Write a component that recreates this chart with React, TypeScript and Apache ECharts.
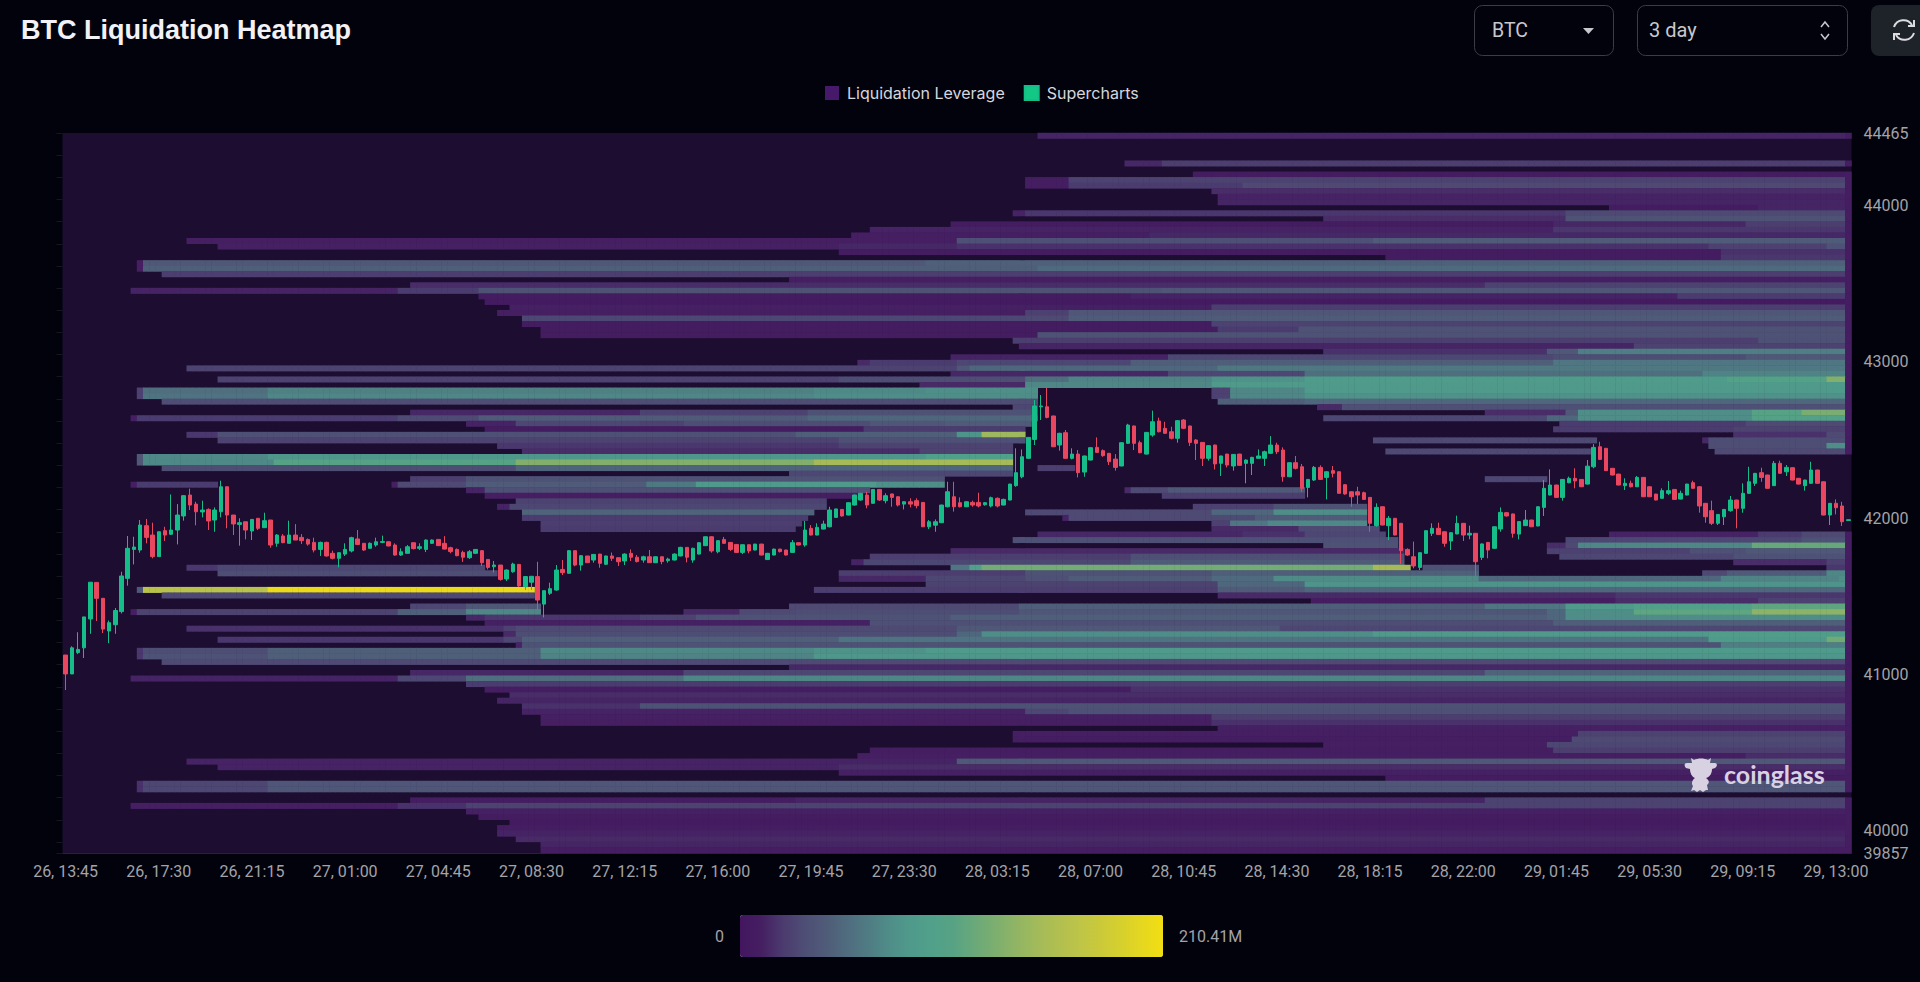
import React, { useEffect, useRef } from "react";
import * as echarts from "echarts";

const TITLE = "BTC Liquidation Heatmap";
const PRICE_MIN = 39857;
const PRICE_MAX = 44465;
const MAX_LIQ = 210.41;
const priceTicks = [39857, 40000, 41000, 42000, 43000, 44000, 44465];
const ROW_COUNT = 130;
const COL_COUNT = 288;
const LAST_COLUMN_VALUE = 9;

// [row from the top, [firstColumn, endColumn, value in millions], ...]
type Band = [number, ...[number, number, number][]];
const upperBands: Band[] = [
  [0, [157, 288, 13]],
  [5, [171, 177, 14], [177, 288, 24]],
  [7, [182, 288, 8]],
  [8, [155, 162, 9], [162, 288, 26]],
  [9, [155, 162, 9], [162, 190, 22], [190, 288, 30]],
  [10, [185, 288, 16]],
  [11, [186, 288, 12]],
  [12, [186, 288, 13]],
  [13, [249, 273, 8], [273, 288, 13]],
  [14, [153, 155, 12], [155, 242, 20], [242, 288, 30]],
  [15, [203, 242, 16], [242, 288, 36]],
  [16, [143, 240, 8], [240, 271, 14], [271, 288, 24]],
  [17, [130, 240, 12], [240, 288, 20]],
  [18, [127, 175, 10], [175, 288, 14]],
  [19, [20, 144, 10], [144, 211, 34], [211, 288, 42]],
  [20, [25, 125, 11], [125, 144, 14], [144, 265, 18], [265, 284, 25], [284, 288, 35]],
  [21, [125, 267, 8], [267, 288, 18]],
  [22, [213, 267, 8], [267, 288, 20]],
  [23, [12, 13, 10], [13, 139, 40], [139, 288, 46]],
  [24, [12, 13, 10], [13, 157, 44], [157, 288, 52]],
  [25, [16, 288, 24]],
  [26, [117, 288, 10]],
  [27, [56, 229, 16], [229, 288, 26]],
  [28, [11, 54, 12], [54, 67, 22], [67, 177, 36], [177, 288, 38]],
  [29, [67, 172, 8], [172, 260, 12], [260, 288, 22]],
  [30, [68, 288, 6]],
  [31, [72, 185, 11], [185, 288, 24]],
  [32, [70, 155, 10], [155, 162, 25], [162, 288, 38]],
  [33, [74, 155, 28], [155, 162, 30], [162, 288, 42]],
  [34, [74, 185, 8], [185, 288, 26]],
  [35, [77, 186, 8], [186, 199, 22], [199, 288, 36]],
  [36, [77, 157, 8], [157, 288, 36]],
  [37, [153, 273, 24], [273, 288, 34]],
  [38, [154, 253, 13], [253, 288, 26]],
  [39, [203, 239, 18], [239, 244, 40], [244, 288, 65]],
  [40, [143, 178, 12], [178, 240, 28], [240, 271, 32], [271, 288, 40]],
  [41, [128, 130, 15], [130, 144, 22], [144, 172, 28], [172, 240, 44], [240, 288, 60]],
  [42, [20, 144, 26], [144, 146, 38], [146, 186, 50], [186, 288, 62]],
  [43, [143, 178, 14], [178, 200, 28], [200, 264, 55], [264, 288, 68]],
];
const middleBands: Band[] = [
  [44, [25, 125, 26], [125, 155, 32], [155, 162, 55], [162, 185, 68], [185, 200, 78], [200, 268, 88], [268, 284, 100], [284, 288, 130]],
  [45, [138, 155, 15], [155, 185, 70], [185, 288, 85]],
  [46, [12, 13, 25], [13, 33, 55], [33, 121, 66], [121, 139, 72], [139, 157, 76], [185, 188, 25], [188, 200, 70], [200, 288, 85]],
  [47, [12, 13, 25], [13, 33, 58], [33, 121, 70], [121, 157, 75], [185, 188, 25], [188, 200, 70], [200, 288, 78]],
  [48, [16, 157, 32], [186, 200, 45], [200, 288, 50]],
  [49, [153, 157, 28], [202, 206, 15], [206, 288, 34]],
  [50, [56, 93, 14], [93, 120, 26], [120, 157, 36], [229, 242, 16], [242, 244, 40], [244, 272, 75], [272, 280, 105], [280, 288, 125]],
  [51, [11, 12, 10], [12, 54, 22], [54, 67, 30], [67, 120, 42], [120, 157, 50], [203, 239, 28], [239, 244, 50], [244, 272, 75], [272, 288, 100]],
  [52, [65, 73, 12], [73, 93, 28], [93, 100, 26], [100, 130, 32], [130, 142, 38], [142, 156, 42], [241, 271, 22], [271, 288, 30]],
  [53, [68, 129, 8], [129, 155, 22], [240, 269, 22], [269, 288, 26]],
  [54, [20, 25, 20], [25, 118, 34], [118, 144, 44], [144, 148, 80], [148, 155, 145], [269, 284, 18], [284, 288, 30]],
  [55, [25, 125, 26], [125, 155, 34], [211, 247, 30], [264, 265, 14], [265, 288, 32]],
  [56, [70, 125, 20], [125, 153, 26], [265, 284, 32], [284, 288, 75]],
  [57, [74, 138, 16], [138, 153, 26], [213, 246, 30], [266, 288, 30]],
  [58, [12, 13, 40], [13, 33, 72], [33, 139, 82], [139, 153, 95]],
  [59, [12, 13, 40], [13, 34, 72], [34, 73, 105], [73, 121, 130], [121, 153, 150]],
  [60, [16, 73, 32], [73, 121, 48], [121, 153, 50], [157, 163, 24]],
  [61, [117, 153, 28]],
  [62, [56, 65, 24], [65, 142, 36], [229, 239, 28]],
  [63, [11, 12, 10], [12, 25, 22], [53, 54, 10], [54, 65, 30], [65, 94, 42], [94, 102, 62], [102, 131, 85], [131, 142, 76]],
  [64, [65, 68, 12], [68, 130, 34], [171, 172, 15], [172, 178, 30], [178, 200, 40]],
  [65, [68, 128, 10], [177, 200, 24]],
  [66, [73, 123, 26]],
  [67, [70, 72, 12], [72, 123, 28], [182, 195, 25], [195, 210, 36]],
  [68, [74, 121, 48], [155, 185, 30], [185, 195, 50], [195, 210, 75]],
  [69, [74, 120, 22], [161, 162, 12], [162, 192, 30], [192, 210, 42]],
  [70, [77, 119, 24], [185, 188, 25], [188, 194, 60], [194, 210, 72]],
  [71, [77, 118, 22], [185, 199, 15], [199, 212, 30]],
  [72, [157, 190, 14], [190, 200, 18], [200, 213, 28], [249, 273, 12], [273, 280, 22], [280, 288, 30]],
  [73, [153, 215, 34], [242, 280, 28], [280, 288, 35]],
  [74, [203, 215, 36], [239, 242, 16], [242, 244, 30], [244, 272, 70], [272, 288, 115]],
  [75, [143, 216, 15], [239, 262, 25], [262, 271, 34], [271, 288, 40]],
  [76, [130, 172, 24], [172, 216, 34], [241, 269, 28], [269, 288, 35]],
  [77, [127, 129, 12], [129, 172, 28], [172, 216, 42], [269, 284, 16], [284, 288, 25]],
  [78, [20, 25, 20], [25, 68, 28], [143, 146, 60], [146, 148, 95], [148, 211, 122], [211, 217, 150], [219, 228, 36], [284, 288, 20]],
  [79, [25, 70, 32], [125, 155, 24], [155, 185, 36], [185, 217, 44], [217, 228, 46], [264, 268, 30], [268, 284, 42], [284, 288, 70]],
  [80, [125, 139, 14], [139, 155, 28], [155, 162, 34], [162, 185, 42], [185, 195, 52], [195, 228, 74], [228, 267, 50], [267, 286, 68], [286, 288, 75]],
  [81, [139, 186, 26], [186, 200, 50], [200, 288, 80]],
  [82, [12, 13, 40], [13, 33, 165], [33, 76, 205], [121, 186, 24], [186, 200, 42], [200, 288, 50]],
  [83, [16, 76, 28], [186, 250, 15], [250, 288, 20]],
  [84, [201, 250, 9], [250, 273, 16], [273, 288, 25]],
];
const lowerBands: Band[] = [
  [85, [56, 65, 28], [65, 77, 40], [117, 154, 30], [154, 229, 44], [229, 242, 60], [242, 253, 85], [253, 272, 95], [272, 288, 110]],
  [86, [11, 12, 10], [12, 54, 26], [54, 65, 45], [65, 77, 70], [100, 109, 15], [109, 118, 30], [118, 154, 32], [154, 239, 38], [239, 242, 50], [242, 253, 75], [253, 272, 110], [272, 288, 135]],
  [87, [65, 68, 14], [68, 93, 20], [93, 102, 26], [102, 143, 36], [143, 239, 44], [239, 242, 50], [242, 288, 75]],
  [88, [68, 130, 11], [130, 196, 34], [196, 240, 32], [240, 288, 45]],
  [89, [20, 71, 18], [71, 73, 25], [73, 144, 30], [144, 196, 40], [196, 288, 28]],
  [90, [71, 73, 15], [73, 144, 32], [144, 148, 50], [148, 211, 75], [211, 265, 85], [265, 288, 92]],
  [91, [25, 71, 20], [71, 74, 28], [74, 125, 45], [125, 265, 58], [265, 284, 85], [284, 288, 120]],
  [92, [73, 74, 12], [74, 267, 36], [267, 288, 65]],
  [93, [12, 13, 20], [13, 33, 32], [33, 77, 45], [77, 121, 72], [121, 139, 78], [139, 288, 86]],
  [94, [12, 13, 20], [13, 33, 35], [33, 77, 45], [77, 121, 68], [121, 288, 82]],
  [95, [16, 288, 30]],
  [96, [117, 288, 14]],
  [97, [56, 100, 14], [100, 229, 28], [229, 288, 48]],
  [98, [11, 54, 12], [54, 65, 28], [65, 100, 55], [100, 288, 70]],
  [99, [65, 172, 22], [172, 288, 24]],
  [100, [68, 172, 9], [172, 288, 18]],
  [101, [72, 288, 16]],
  [102, [70, 288, 13]],
  [103, [74, 93, 18], [93, 288, 36]],
  [104, [74, 155, 12], [155, 162, 28], [162, 288, 34]],
  [105, [77, 185, 11], [185, 288, 24]],
  [106, [77, 185, 10], [185, 288, 18]],
  [107, [186, 288, 11]],
  [108, [153, 244, 10], [244, 288, 26]],
  [109, [153, 243, 9], [243, 288, 30]],
  [110, [203, 239, 10], [239, 288, 28]],
  [111, [130, 240, 9], [240, 288, 24]],
  [112, [128, 271, 10], [271, 288, 16]],
  [113, [20, 144, 12], [144, 288, 40]],
  [114, [25, 125, 12], [125, 288, 16]],
  [115, [125, 288, 11]],
  [116, [213, 288, 8]],
  [117, [12, 13, 18], [13, 33, 28], [33, 288, 38]],
  [118, [12, 13, 18], [13, 33, 28], [33, 288, 38]],
  [120, [56, 118, 9], [118, 229, 13], [229, 288, 26]],
  [121, [11, 54, 10], [54, 65, 18], [65, 288, 26]],
  [122, [65, 288, 11]],
  [123, [67, 288, 8]],
  [124, [72, 288, 6]],
  [125, [70, 288, 9]],
  [126, [70, 288, 12]],
  [127, [73, 288, 15]],
  [128, [77, 288, 13]],
  [129, [77, 288, 9]],
];

// open, close, low, high
const candlesDay26: number[][] = [
  [41124,41003,40900,41124],[41003,41170,41003,41180],[41140,41160,41130,41270],[41170,41368,41105,41368],
  [41355,41590,41260,41590],[41589,41487,41342,41589],[41487,41290,41265,41487],[41278,41331,41200,41345],
  [41318,41409,41260,41425],[41402,41630,41390,41657],[41615,41807,41568,41886],[41800,41815,41704,41881],
  [41796,41956,41779,41988],[41952,41877,41839,41995],[41892,41754,41743,41971],[41754,41913,41754,41913],
  [41920,41892,41854,41945],[41897,41924,41892,42152],[41924,42020,41832,42090],[42014,42144,41984,42148],
  [42148,42084,42052,42189],[42090,42041,41954,42105],[42040,42052,42005,42112],[42056,41982,41924,42063],
  [41988,42052,41913,42069],[42041,42201,42005,42240],[42201,42020,41935,42201],[42020,41963,41892,42020],
  [41960,41971,41824,41999],[41977,41924,41864,41977],[41918,41992,41860,41992],[41999,41935,41924,41999],
  [41939,41984,41939,42035],[41988,41828,41811,41988],[41839,41892,41817,41898],[41886,41843,41840,41898],
  [41839,41892,41839,41984],[41892,41860,41860,41962],[41877,41856,41835,41898],[41864,41834,41824,41870],
  [41845,41796,41781,41875],[41800,41845,41758,41850],[41845,41758,41754,41850],[41775,41743,41736,41792],
  [41743,41779,41685,41781],[41770,41800,41758,41839],[41790,41875,41781,41881],[41867,41832,41828,41924],
  [41839,41796,41790,41839],[41807,41839,41805,41845],[41828,41849,41817,41875],[41845,41850,41840,41888],
  [41849,41822,41820,41854],[41828,41764,41760,41839],[41764,41785,41758,41807],[41775,41817,41773,41828],
  [41843,41805,41800,41843],[41807,41817,41796,41839],[41800,41860,41783,41864],[41839,41860,41835,41864],
  [41864,41824,41822,41867],[41839,41802,41800,41885],[41811,41786,41775,41817],[41800,41760,41756,41806],
  [41781,41750,41720,41792],[41747,41785,41739,41796],[41775,41800,41770,41802],[41792,41715,41694,41796],
  [41736,41685,41672,41736],[41690,41700,41653,41726],[41700,41608,41600,41700],[41611,41668,41598,41672],
  [41657,41706,41651,41715],[41704,41566,41560,41707],[41562,41626,41540,41630],[41590,41628,41540,41628],
  [41626,41476,41412,41721],[41450,41536,41365,41536],[41519,41549,41508,41587],[41540,41668,41536,41700],
  [41672,41651,41636,41732],[41647,41792,41645,41796],[41792,41700,41692,41792],[41700,41760,41664,41764],
  [41758,41715,41713,41758],[41732,41768,41715,41770],[41770,41711,41683,41772],[41705,41758,41700,41760],
  [41758,41743,41726,41780],[41747,41721,41694,41747],[41726,41770,41700,41775],[41775,41750,41726,41800],
  [41750,41722,41717,41764],[41732,41753,41715,41760],[41753,41715,41715,41796],[41715,41753,41713,41756],
];
const candlesDay27: number[][] = [
  [41753,41722,41705,41756],[41728,41738,41715,41747],[41732,41770,41730,41775],[41758,41813,41756,41817],
  [41813,41750,41717,41815],[41732,41807,41715,41811],[41770,41843,41768,41845],[41824,41881,41822,41883],
  [41881,41790,41779,41885],[41785,41856,41775,41858],[41864,41839,41836,41880],[41845,41800,41790,41846],
  [41832,41781,41778,41834],[41781,41830,41770,41832],[41830,41790,41775,41832],[41796,41834,41794,41836],
  [41834,41764,41762,41836],[41735,41775,41732,41778],[41764,41802,41762,41805],[41802,41786,41780,41804],
  [41796,41764,41762,41798],[41781,41843,41779,41860],[41843,41828,41826,41845],[41828,41924,41817,41982],
  [41935,41892,41890,41956],[41892,41941,41890,41967],[41930,41962,41928,41984],[41945,42052,41941,42073],
  [42005,42059,42003,42060],[42056,42014,42010,42058],[42020,42099,42018,42101],[42084,42148,42080,42150],
  [42116,42159,42112,42161],[42148,42084,42063,42169],[42095,42184,42093,42186],[42184,42116,42110,42186],
  [42112,42144,42095,42159],[42155,42133,42073,42157],[42137,42084,42075,42140],[42090,42105,42056,42108],
  [42105,42090,42069,42127],[42112,42080,42063,42127],[42101,41945,41943,42103],[41945,41977,41930,41988],
  [41955,41977,41913,41992],[41971,42084,41969,42086],[42073,42169,42069,42233],[42137,42073,42042,42233],
  [42099,42073,42069,42133],[42073,42105,42071,42108],[42101,42084,42073,42112],[42101,42078,42069,42163],
  [42086,42099,42080,42103],[42078,42131,42069,42138],[42127,42078,42069,42133],[42084,42120,42082,42125],
  [42116,42218,42114,42220],[42208,42291,42201,42447],[42265,42393,42255,42440],[42383,42517,42381,42519],
  [42504,42718,42468,42756],[42713,42718,42628,42788],[42713,42645,42639,42837],[42654,42457,42455,42656],
  [42468,42543,42432,42547],[42547,42383,42381,42564],[42383,42410,42376,42447],[42410,42291,42261,42436],
  [42295,42398,42265,42400],[42372,42451,42370,42453],[42453,42421,42419,42517],[42432,42400,42393,42440],
  [42415,42361,42340,42417],[42378,42325,42304,42410],[42334,42483,42332,42485],[42479,42596,42475,42604],
  [42590,42479,42436,42592],[42483,42419,42415,42496],[42410,42549,42408,42551],[42532,42617,42521,42688],
  [42622,42553,42549,42643],[42575,42543,42541,42617],[42553,42511,42504,42585],[42511,42624,42483,42628],
  [42628,42575,42570,42634],[42590,42485,42462,42592],[42500,42479,42372,42506],[42485,42383,42334,42487],
  [42383,42464,42368,42466],[42468,42347,42312,42470],[42351,42398,42270,42400],[42410,42340,42325,42412],
  [42334,42408,42304,42410],[42410,42338,42336,42412],[42351,42372,42223,42376],[42351,42389,42276,42393],
];
const candlesDay28: number[][] = [
  [42383,42398,42381,42440],[42383,42425,42334,42432],[42415,42468,42410,42525],[42468,42425,42410,42483],
  [42436,42265,42233,42453],[42265,42355,42263,42357],[42355,42319,42312,42398],[42329,42191,42169,42347],
  [42197,42248,42133,42250],[42244,42325,42238,42334],[42325,42248,42246,42338],[42261,42297,42120,42300],
  [42304,42287,42261,42334],[42297,42159,42157,42299],[42214,42155,42150,42218],[42169,42137,42073,42171],
  [42169,42148,42090,42201],[42163,42120,42118,42170],[42133,41967,41913,42135],[41952,42069,41945,42095],
  [42073,41956,41954,42075],[41952,41999,41860,42014],[41999,41892,41890,42001],[41967,41792,41707,41969],
  [41800,41764,41758,41807],[41753,41694,41679,41850],[41685,41779,41668,41781],[41775,41920,41773,41920],
  [41903,41935,41886,41967],[41935,41896,41892,41971],[41913,41839,41817,41915],[41854,41907,41796,41910],
  [41899,41967,41897,42016],[41967,41892,41854,41969],[41892,41903,41865,41952],[41903,41721,41608,41905],
  [41749,41835,41732,41838],[41845,41796,41743,41847],[41807,41945,41805,41947],[41931,42037,41913,42069],
  [42035,42014,42010,42040],[42027,41903,41875,42029],[41898,41978,41864,41980],[41952,41988,41950,42052],
  [41988,41945,41943,41990],[41950,42073,41948,42075],[42069,42191,42014,42244],[42148,42212,42146,42312],
  [42212,42133,42131,42214],[42133,42248,42112,42250],[42227,42255,42223,42266],[42255,42238,42191,42319],
  [42248,42201,42199,42250],[42218,42333,42216,42372],[42329,42453,42319,42474],[42457,42376,42372,42489],
  [42447,42304,42302,42449],[42319,42276,42274,42321],[42282,42212,42210,42284],[42208,42223,42180,42255],
  [42223,42201,42197,42240],[42201,42261,42199,42270],[42261,42137,42135,42263],[42201,42137,42135,42203],
  [42154,42116,42114,42156],[42127,42176,42125,42191],[42159,42176,42148,42238],[42184,42120,42118,42186],
  [42122,42159,42120,42176],[42148,42218,42146,42220],[42227,42191,42189,42240],[42201,42078,42035,42205],
  [42095,42009,41971,42097],[42048,41967,41956,42112],[41967,42024,41956,42026],[42009,42056,41956,42058],
  [42048,42116,42041,42142],[42116,42063,41935,42118],[42063,42159,42035,42223],[42159,42233,42154,42329],
  [42223,42287,42206,42289],[42291,42261,42233,42323],[42276,42191,42189,42278],[42208,42351,42206,42366],
  [42351,42287,42285,42368],[42297,42325,42270,42340],[42323,42244,42242,42325],[42255,42218,42216,42257],
  [42208,42244,42176,42246],[42223,42308,42219,42361],[42308,42223,42221,42310],[42233,42020,42018,42235],
  [42020,42095,41956,42097],[42095,42067,42024,42120],[42078,41977,41950,42105],[41985,41990,41983,41992],
];

const START_DAY = 26;
const START_MINUTES = 13 * 60 + 45;
const STEP_MINUTES = 15;
const pad = (n: number) => String(n).padStart(2, "0");
const categories = Array.from({ length: COL_COUNT }, (_, i) => {
  const m = START_MINUTES + i * STEP_MINUTES;
  return `${START_DAY + Math.floor(m / 1440)}, ${pad(Math.floor(m / 60) % 24)}:${pad(m % 60)}`;
});
const rowNames = Array.from({ length: ROW_COUNT }, (_, i) => String(ROW_COUNT - i));

function expandBands(): number[][] {
  const out: number[][] = [];
  for (const band of [...upperBands, ...middleBands, ...lowerBands]) {
    const row = band[0] as number;
    for (const run of band.slice(1) as [number, number, number][]) {
      for (let c = run[0]; c < run[1]; c++) {
        out.push([c, row, c === COL_COUNT - 1 ? LAST_COLUMN_VALUE : run[2]]);
      }
    }
  }
  return out;
}

const FONT = "Roboto";
const AXIS_TEXT = "#a3a3a8";
const heatColors = [
  "#42165f", "#451f62", "#4b3a6e", "#4e4d75", "#4f5b78", "#4f6b7e", "#4f7b83",
  "#4f8c88", "#4f9a8b", "#50a08a", "#56a285", "#68a87a", "#7bae70", "#8fb465",
  "#a2ba5b", "#b0bf50", "#bdc448", "#cac93a", "#d6d02e", "#e5d720", "#f2de12",
];

echarts.graphic.registerShape(
  "refreshIcon",
  echarts.graphic.extendPath(
    "M2 8 A10 10 0 0 1 20 6 M22 1 L22 7 L16 7 M22 14 A10 10 0 0 1 4 16 M2 21 L2 15 L8 15",
    {}
  )
);
echarts.graphic.registerShape(
  "cowLogo",
  echarts.graphic.extendPath(
    "M3 7 C0 7 0 10 2 12 L6 13 C6 17 8 21 11 22 C8 24 7 28 9 30 L7 35 L10 34 L13 36 L16 34 L19 36 L22 34 L24 34 L23 29 C26 27 25 24 22 22 C26 21 28 17 28 13 L31 12 C34 10 33 7 31 7 L26 7 L27 2 L24 4 C20 2 14 2 10 4 L7 2 L8 7 Z",
    {}
  )
);

export default function App() {
  const ref = useRef<HTMLDivElement>(null);
  useEffect(() => {
    const chart = echarts.init(ref.current!, null, { renderer: "svg" });
    chart.setOption({
      animation: false,
      backgroundColor: "#02020c",
      title: {
        text: TITLE,
        left: 16,
        top: 11,
        textStyle: { color: "#f2f2f6", fontFamily: "Liberation Sans", fontWeight: "bold", fontSize: 27 },
      },
      legend: {
        left: 820,
        top: 80,
        itemWidth: 14,
        itemHeight: 14,
        itemGap: 19,
        textStyle: { color: "#d6d6dc", fontFamily: "Inter", fontSize: 16, padding: [0, 0, 0, 3] },
        data: [
          { name: "Liquidation Leverage", icon: "rect", itemStyle: { color: "#47196b" } },
          { name: "Supercharts", icon: "rect", itemStyle: { color: "#12c884" } },
        ],
      },
      grid: {
        left: 62.5,
        right: 68.5,
        top: 133,
        bottom: 129,
        show: true,
        backgroundColor: "#1d0d30",
        borderWidth: 0,
      },
      xAxis: {
        type: "category",
        data: categories,
        boundaryGap: true,
        axisLine: { lineStyle: { color: "#24242c" } },
        axisTick: { interval: 14, length: 5, lineStyle: { color: "#3a3a42" } },
        axisLabel: { interval: 14, color: AXIS_TEXT, fontFamily: FONT, fontSize: 16, margin: 10 },
      },
      yAxis: [
        {
          type: "category",
          data: rowNames,
          inverse: true,
          position: "left",
          axisLine: { show: false },
          axisLabel: { show: false },
          axisTick: { show: true, interval: 3, length: 6, lineStyle: { color: "#16161f" } },
        },
        {
          type: "value",
          position: "right",
          min: PRICE_MIN,
          max: PRICE_MAX,
          splitLine: { show: false },
          axisLine: { show: false },
          axisTick: { show: false },
          axisLabel: {
            customValues: priceTicks,
            formatter: (v: number) => String(v),
            color: AXIS_TEXT,
            fontFamily: FONT,
            fontSize: 16,
            margin: 12,
          },
        },
      ],
      visualMap: {
        type: "continuous",
        seriesIndex: 0,
        min: 0,
        max: MAX_LIQ,
        orient: "horizontal",
        left: 700,
        top: 900,
        itemWidth: 42,
        itemHeight: 423,
        textGap: 16,
        text: ["210.41M", "0"],
        calculable: false,
        hoverLink: false,
        textStyle: { color: AXIS_TEXT, fontFamily: FONT, fontSize: 16 },
        inRange: { color: heatColors },
      },
      series: [
        {
          name: "Liquidation Leverage",
          type: "heatmap",
          xAxisIndex: 0,
          yAxisIndex: 0,
          data: expandBands(),
          progressive: 0,
          itemStyle: { borderWidth: 0 },
          emphasis: { disabled: true },
        },
        {
          name: "Supercharts",
          type: "candlestick",
          xAxisIndex: 0,
          yAxisIndex: 1,
          data: [...candlesDay26, ...candlesDay27, ...candlesDay28],
          barWidth: 4,
          itemStyle: {
            color: "#16bd88",
            color0: "#e8475f",
            borderColor: "#16bd88",
            borderColor0: "#e8475f",
            borderWidth: 1,
          },
        },
      ],
      graphic: [
        { type: "rect", z: 100, shape: { x: 1474.5, y: 5.5, width: 139, height: 50, r: 8 }, style: { fill: "transparent", stroke: "#3b3c44", lineWidth: 1 } },
        { type: "text", z: 100, x: 1492, y: 30, style: { text: "BTC", fill: "#c8c8cc", font: "19.5px Roboto", textVerticalAlign: "middle" } },
        { type: "polygon", z: 100, shape: { points: [[1583, 28], [1594, 28], [1588.5, 34]] }, style: { fill: "#c8c8cc" } },
        { type: "rect", z: 100, shape: { x: 1637.5, y: 5.5, width: 210, height: 50, r: 8 }, style: { fill: "transparent", stroke: "#3b3c44", lineWidth: 1 } },
        { type: "text", z: 100, x: 1649, y: 30, style: { text: "3 day", fill: "#c8c8cc", font: "20px Roboto", textVerticalAlign: "middle" } },
        { type: "polyline", z: 100, shape: { points: [[1821, 27], [1825, 22], [1829, 27]] }, style: { fill: "none", stroke: "#c8c8cc", lineWidth: 1.5 } },
        { type: "polyline", z: 100, shape: { points: [[1821, 34], [1825, 39], [1829, 34]] }, style: { fill: "none", stroke: "#c8c8cc", lineWidth: 1.5 } },
        { type: "rect", z: 100, shape: { x: 1871, y: 5, width: 60, height: 51, r: 8 }, style: { fill: "#1e2229" } },
        { type: "refreshIcon", z: 101, x: 1892, y: 19, style: { fill: "none", stroke: "#dcdce0", lineWidth: 2 } },
        { type: "cowLogo", z: 100, x: 1684, y: 756, style: { fill: "#d8d1e2" } },
        { type: "text", z: 100, x: 1724, y: 774, style: { text: "coinglass", fill: "#d8d1e2", font: "bold 25px Lato", textVerticalAlign: "middle" } },
      ],
    });
    return () => chart.dispose();
  }, []);
  return (
    <div
      ref={ref}
      style={{ position: "fixed", left: 0, top: 0, width: 1920, height: 982, background: "#02020c" }}
    />
  );
}
